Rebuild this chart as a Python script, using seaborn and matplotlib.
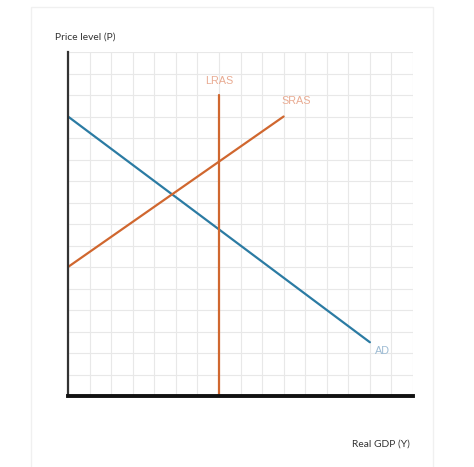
import pandas as pd
import matplotlib.pyplot as plt
import seaborn as sns
from matplotlib.patches import Rectangle

# curve endpoints in grid units (16 x 16 grid)
ad_x = [0, 14]
ad_y = [13, 2.5]
sras_x = [0, 10]
sras_y = [6, 13]
lras_x = [7, 7]
lras_y = [0, 14]

curves = pd.concat([
    pd.DataFrame({"Y": ad_x, "P": ad_y, "curve": "AD"}),
    pd.DataFrame({"Y": sras_x, "P": sras_y, "curve": "SRAS"}),
    pd.DataFrame({"Y": lras_x, "P": lras_y, "curve": "LRAS"}),
])

line_colors = {"AD": "#2b7ba3", "SRAS": "#d0672f", "LRAS": "#d0672f"}
label_colors = {"AD": "#9dbbd3", "SRAS": "#e9ab92", "LRAS": "#e9ab92"}
label_pos = {"AD": (14.6, 2.1), "SRAS": (10.6, 13.7), "LRAS": (7.0, 14.65)}

sns.set_style("white")
plt.rcParams["font.family"] = ["Lato", "DejaVu Sans"]

fig = plt.figure(figsize=(4.74, 4.67), dpi=100)
fig.patches.append(Rectangle((31 / 474, -0.05), 402 / 474, 1.05 - 7 / 467,
                             transform=fig.transFigure, fill=False,
                             edgecolor="#f0f0f0", linewidth=1))
ax = fig.add_axes([68 / 474, 71 / 467, 345 / 474, 344 / 467])

sns.lineplot(data=curves, x="Y", y="P", hue="curve", palette=line_colors,
             units="curve", estimator=None, sort=False, linewidth=1.6,
             legend=False, ax=ax)

for name, (lx, ly) in label_pos.items():
    ax.text(lx, ly, name, color=label_colors[name], fontsize=7.8,
            family=["Liberation Sans", "DejaVu Sans"], ha="center", va="center")

ax.set_xlim(0, 16)
ax.set_ylim(0, 16)
ax.set_xticks(range(17))
ax.set_yticks(range(17))
ax.grid(True, color="#e8e8e8", linewidth=0.8)
ax.tick_params(length=0, labelbottom=False, labelleft=False)
ax.set_xlabel("")
ax.set_ylabel("")
for side in ["top", "right"]:
    ax.spines[side].set_visible(False)
ax.spines["left"].set_color("#333333")
ax.spines["left"].set_linewidth(1.6)
ax.spines["bottom"].set_color("#111111")
ax.spines["bottom"].set_linewidth(2.8)

fig.text(55 / 474, 1 - 37 / 467, "Price level (P)", fontsize=7.4,
         color="#333333", ha="left", va="center")
fig.text(410 / 474, 1 - 444 / 467, "Real GDP (Y)", fontsize=7.4,
         color="#333333", ha="right", va="center")

fig.savefig("out.png", dpi=100)
